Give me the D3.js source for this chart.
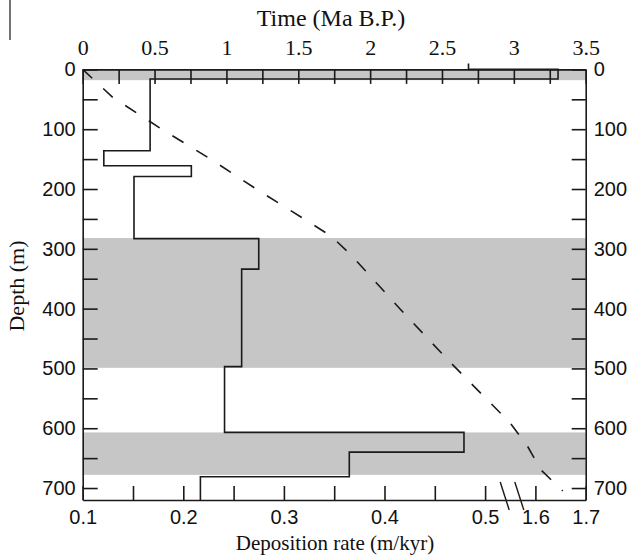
<!DOCTYPE html>
<html><head><meta charset="utf-8">
<script src="https://cdn.jsdelivr.net/npm/d3@7/dist/d3.min.js"></script>
<style>body{margin:0;background:#fff}</style></head>
<body><svg id="c" width="628" height="560"></svg>
<script>
// Deposition-rate step curve: depth boundaries (m) and rate (m/kyr) within each interval
const stepDepths = [-10, 0, 16, 136, 161, 179, 283, 334, 497, 607, 640, 681, 720];
const stepRates  = [0.4835, 1.645, 0.167, 0.121, 0.208, 0.151, 0.275, 0.258, 0.241, 0.479, 0.365, 0.217];
// Age-depth curve (dashed): time (Ma B.P.) vs depth (m)
const ageTimes  = [0, 0.21, 0.55, 0.89, 1.22, 1.56, 1.73, 1.87, 2.21, 2.55, 2.69, 2.97, 3.09, 3.19, 3.34];
const ageDepths = [0, 47, 100, 150, 202, 253, 279, 311, 401, 488, 522, 590, 628, 670, 705];
// Shaded depth intervals
const bandTops    = [0, 282, 607];
const bandBottoms = [18, 499, 678];
// Ticks
const depthTicks = [0,50,100,150,200,250,300,350,400,450,500,550,600,650,700];
const depthLabels = [0,100,200,300,400,500,600,700];
const timeTicks = [0,0.25,0.5,0.75,1,1.25,1.5,1.75,2,2.25,2.5,2.75,3,3.25,3.5];
const timeLabels = [0,0.5,1,1.5,2,2.5,3,3.5];
const rateTicks = [0.1,0.15,0.2,0.25,0.3,0.35,0.4,0.45,0.5,1.6,1.7];
const rateLabels = [0.1,0.2,0.3,0.4,0.5,1.6,1.7];

const L = 82.7, R = 585.7, T = 69.4, B = 500;
const svg = d3.select("#c");
const ink = "#1a1a1a";

const y = d3.scaleLinear().domain([0, 720]).range([T, B]);
const xt = d3.scaleLinear().domain([0, 3.5]).range([L, R]);
const xd = d3.scaleLinear().domain([0.1, 0.6]).range([L, R]);
// broken rate axis: values above 1 are shown compressed after the break
const brk = r => r > 1 ? 0.55 + (r - 1.6) / 2 : r;
const xr = r => xd(brk(r));

// bands
svg.append("g").selectAll("rect").data(bandTops).join("rect")
  .attr("x", L).attr("width", R - L)
  .attr("y", d => y(d)).attr("height", (d, i) => y(bandBottoms[i]) - y(d))
  .attr("fill", "#c6c6c6");

// step curve
const pts = [];
stepRates.forEach((r, i) => { pts.push([r, stepDepths[i]]); pts.push([r, stepDepths[i + 1]]); });
svg.append("path")
  .attr("d", d3.line().x(d => xr(d[0])).y(d => y(d[1]))(pts))
  .attr("fill", "none").attr("stroke", ink).attr("stroke-width", 1.6);

// age-depth dashed
svg.append("path")
  .attr("d", d3.line().x(d => xt(d)).y((d, i) => y(ageDepths[i]))(ageTimes))
  .attr("fill", "none").attr("stroke", ink).attr("stroke-width", 1.6)
  .attr("stroke-dasharray", "13,15");

const serif = "'Liberation Serif','Times New Roman',serif";
const sans = "'Liberation Sans',Arial,sans-serif";

function style(g, font, size) {
  g.select(".domain").attr("stroke", ink).attr("stroke-width", 1.6);
  g.selectAll(".tick line").attr("stroke", ink).attr("stroke-width", 1.6);
  g.selectAll(".tick text").attr("fill", "#111").style("font-family", font).style("font-size", size + "px");
}

// left axis
const gl = svg.append("g").attr("transform", `translate(${L},0)`)
  .call(d3.axisLeft(y).tickValues(depthTicks).tickSize(-15).tickSizeOuter(0).tickPadding(7)
    .tickFormat(d => depthLabels.includes(d) ? d : ""));
style(gl, sans, 20);
// right axis
const gr = svg.append("g").attr("transform", `translate(${R},0)`)
  .call(d3.axisRight(y).tickValues(depthTicks).tickSize(-14).tickSizeOuter(0).tickPadding(8)
    .tickFormat(d => depthLabels.includes(d) ? d : ""));
style(gr, sans, 20);
// top axis
const gt = svg.append("g").attr("transform", `translate(0,${T})`)
  .call(d3.axisTop(xt).tickValues(timeTicks).tickSize(-14.5).tickSizeOuter(0).tickPadding(14)
    .tickFormat(d => timeLabels.includes(d) ? d : ""));
style(gt, serif, 22);
// bottom axis (display units, labelled with real rates)
const dispTicks = rateTicks.map(brk);
const gb = svg.append("g").attr("transform", `translate(0,${B})`)
  .call(d3.axisBottom(xd).tickValues(dispTicks).tickSize(-14).tickSizeOuter(0).tickPadding(10)
    .tickFormat((d, i) => rateLabels.some(v => Math.abs(v - rateTicks[i]) < 1e-9) ? rateTicks[i] : ""));
style(gb, sans, 20);

// break marks
[0.5195, 0.534].forEach(v => {
  const cx = xd(v);
  svg.append("line").attr("x1", cx - 4.5).attr("y1", B - 18).attr("x2", cx + 4.5).attr("y2", B + 10)
    .attr("stroke", ink).attr("stroke-width", 1.4);
});

// titles
svg.append("text").attr("x", 331).attr("y", 26).attr("text-anchor", "middle")
  .style("font-family", serif).style("font-size", "24px").attr("fill", "#111").text("Time (Ma B.P.)");
svg.append("text").attr("x", 335).attr("y", 550).attr("text-anchor", "middle")
  .style("font-family", serif).style("font-size", "21px").attr("fill", "#111").text("Deposition rate (m/kyr)");
svg.append("text").attr("transform", "translate(24,286) rotate(-90)").attr("text-anchor", "middle")
  .style("font-family", serif).style("font-size", "22px").attr("fill", "#111").text("Depth (m)");

// edge line at far left (from the source figure)
svg.append("line").attr("x1", 10).attr("y1", 0).attr("x2", 10).attr("y2", 40)
  .attr("stroke", "#444").attr("stroke-width", 1.5);
</script>
</body></html>
